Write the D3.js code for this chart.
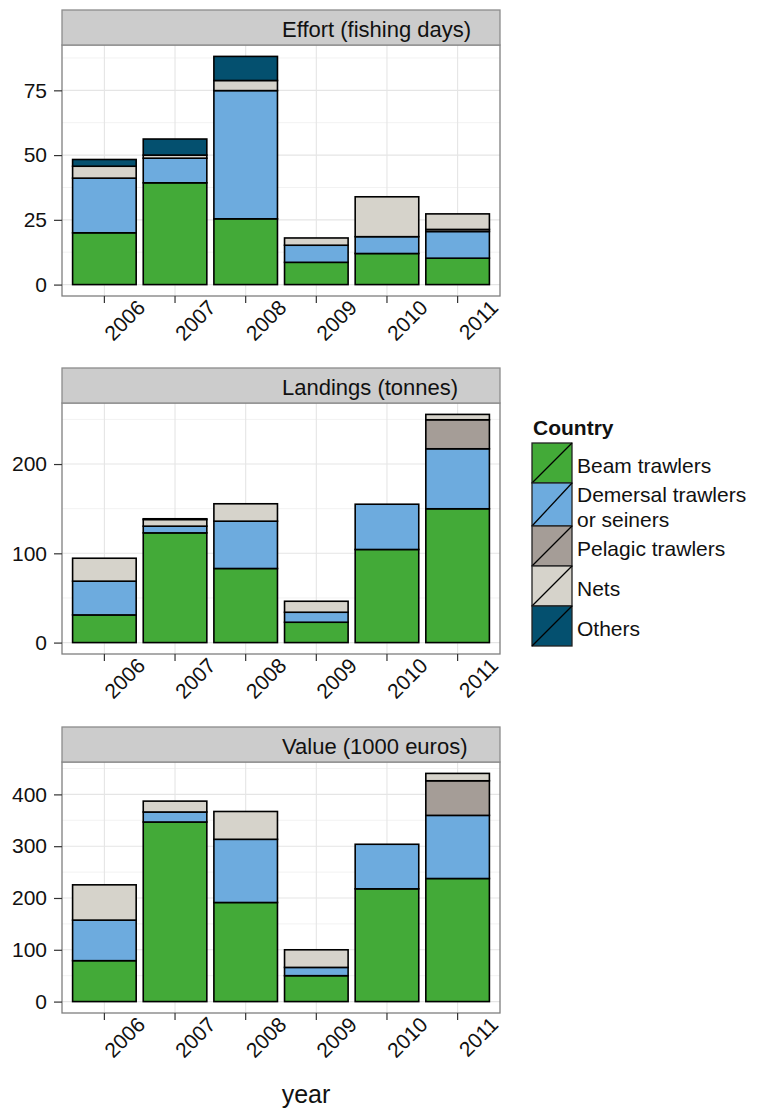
<!DOCTYPE html>
<html>
<head>
<meta charset="utf-8">
<script src="https://cdn.jsdelivr.net/npm/d3@7"></script>
<style>
  html, body { margin: 0; padding: 0; background: #fff; }
  text { font-family: "Liberation Sans", Arial, sans-serif; }
</style>
</head>
<body>
<svg id="chart" width="760" height="1117"></svg>
<script>
const years = ["2006", "2007", "2008", "2009", "2010", "2011"];
const gears = ["Beam trawlers", "Demersal trawlers or seiners", "Pelagic trawlers", "Nets", "Others"];
const gearLabels = [["Beam trawlers"], ["Demersal trawlers", "or seiners"], ["Pelagic trawlers"], ["Nets"], ["Others"]];
const gearColors = ["#43AA38", "#6DABDE", "#A59D97", "#D6D3CB", "#04506F"];
const panelTitles = ["Effort (fishing days)", "Landings (tonnes)", "Value (1000 euros)"];

// values per gear, per year (2006..2011)
const effortBeam      = [20.0, 39.3, 25.4,  8.6, 12.0, 10.2];
const effortDemersal  = [21.1,  9.5, 49.5,  6.6,  6.5, 10.3];
const effortPelagic   = [ 0,    0,    0,    0,    0,    0.8];
const effortNets      = [ 4.6,  1.2,  3.9,  2.8, 15.4,  6.0];
const effortOthers    = [ 2.6,  6.2,  9.3,  0,    0,    0  ];

const landingsBeam     = [31.0, 122.9, 83.0, 22.8, 104.3, 149.9];
const landingsDemersal = [37.8,   7.5, 53.0, 11.2,  50.7,  67.2];
const landingsPelagic  = [ 0,     0,    0,    0,     0,    32.5];
const landingsNets     = [25.7,   7.5, 19.5, 12.3,   0,     6.0];
const landingsOthers   = [ 0,     0.8,  0,    0,     0,     0  ];

const valueBeam     = [79.0, 346.7, 191.3, 50.0, 217.7, 237.6];
const valueDemersal = [78.3,  19.3, 122.0, 16.0,  86.0, 121.9];
const valuePelagic  = [ 0,     0,     0,    0,     0,    66.8];
const valueNets     = [68.1,  21.0,  53.7, 34.0,   0,    14.2];
const valueOthers   = [ 0,     0,     0,    0,     0,     0  ];

const effortTicks   = [0, 25, 50, 75];
const effortMinor   = [12.5, 37.5, 62.5, 87.5];
const landingsTicks = [0, 100, 200];
const landingsMinor = [50, 150, 250];
const valueTicks    = [0, 100, 200, 300, 400];
const valueMinor    = [50, 150, 250, 350, 450];

const panels = [
  { title: panelTitles[0], series: [effortBeam, effortDemersal, effortPelagic, effortNets, effortOthers], ticks: effortTicks, minor: effortMinor, stripTop: 10 },
  { title: panelTitles[1], series: [landingsBeam, landingsDemersal, landingsPelagic, landingsNets, landingsOthers], ticks: landingsTicks, minor: landingsMinor, stripTop: 368 },
  { title: panelTitles[2], series: [valueBeam, valueDemersal, valuePelagic, valueNets, valueOthers], ticks: valueTicks, minor: valueMinor, stripTop: 727 }
];

const svg = d3.select("#chart");
const left = 62, right = 500, stripH = 35, plotH = 251;
const fontTick = 21;

const x = d3.scaleBand().domain(years).range([left, right]).paddingInner(0.1).paddingOuter(0.15);
const color = d3.scaleOrdinal().domain(gears).range(gearColors);

panels.forEach(p => {
  const top = p.stripTop + stripH, bottom = top + plotH;
  const rows = years.map((yr, i) => {
    const r = { year: yr };
    gears.forEach((g, k) => r[g] = p.series[k][i]);
    return r;
  });
  const stacked = d3.stack().keys(gears)(rows);
  const maxTotal = d3.max(rows, r => d3.sum(gears, g => r[g]));
  const y = d3.scaleLinear().domain([-0.05 * maxTotal, 1.05 * maxTotal]).range([bottom, top]);

  const g = svg.append("g");
  // panel background
  g.append("rect").attr("x", left).attr("y", top).attr("width", right - left).attr("height", plotH).attr("fill", "#fff");
  // minor grid
  g.selectAll(".minor").data(p.minor.filter(v => y(v) > top && y(v) < bottom)).join("line")
    .attr("x1", left).attr("x2", right).attr("y1", d => y(d)).attr("y2", d => y(d))
    .attr("stroke", "#F2F2F2").attr("stroke-width", 1);
  // major grid
  g.selectAll(".major").data(p.ticks).join("line")
    .attr("x1", left).attr("x2", right).attr("y1", d => y(d)).attr("y2", d => y(d))
    .attr("stroke", "#E5E5E5").attr("stroke-width", 1.1);
  g.selectAll(".vgrid").data(years).join("line")
    .attr("x1", d => x(d) + x.bandwidth() / 2).attr("x2", d => x(d) + x.bandwidth() / 2)
    .attr("y1", top).attr("y2", bottom)
    .attr("stroke", "#E5E5E5").attr("stroke-width", 1.1);

  // bars
  stacked.forEach((layer, k) => {
    g.selectAll(null).data(layer.filter(d => d[1] - d[0] > 0)).join("rect")
      .attr("x", d => x(d.data.year))
      .attr("width", x.bandwidth())
      .attr("y", d => y(d[1]))
      .attr("height", d => y(d[0]) - y(d[1]))
      .attr("fill", color(layer.key))
      .attr("stroke", "#000")
      .attr("stroke-width", 1.6);
  });

  // panel border
  g.append("rect").attr("x", left).attr("y", top).attr("width", right - left).attr("height", plotH)
    .attr("fill", "none").attr("stroke", "#7F7F7F").attr("stroke-width", 1.3);

  // strip
  g.append("rect").attr("x", left).attr("y", p.stripTop).attr("width", right - left).attr("height", stripH)
    .attr("fill", "#CCCCCC").attr("stroke", "#8C8C8C").attr("stroke-width", 1.3);
  g.append("text").attr("x", 282).attr("y", p.stripTop + 27).attr("font-size", 22).attr("fill", "#111")
    .text(p.title);

  // y axis
  const yAxis = g.append("g").attr("transform", `translate(${left},0)`)
    .call(d3.axisLeft(y).tickValues(p.ticks).tickSize(8).tickPadding(7).tickFormat(d3.format("d")));
  yAxis.select(".domain").remove();
  yAxis.selectAll(".tick line").attr("stroke", "#333").attr("stroke-width", 1.2);
  yAxis.selectAll(".tick text").attr("font-size", fontTick).attr("fill", "#111")
    .attr("font-family", "'Liberation Sans', Arial, sans-serif");

  // x axis
  const xAxis = g.append("g").attr("transform", `translate(0,${bottom})`)
    .call(d3.axisBottom(x).tickSize(7).tickFormat(d => d));
  xAxis.select(".domain").remove();
  xAxis.selectAll(".tick line").attr("stroke", "#333").attr("stroke-width", 1.2);
  xAxis.selectAll(".tick text")
    .attr("font-size", fontTick).attr("fill", "#111")
    .attr("font-family", "'Liberation Sans', Arial, sans-serif")
    .attr("text-anchor", "end")
    .attr("dy", null)
    .attr("y", 0)
    .attr("transform", "translate(42,13) rotate(-45)");
});

// x axis title
svg.append("text").attr("x", 306).attr("y", 1103).attr("text-anchor", "middle")
  .attr("font-size", 25).attr("fill", "#111").text("year");

// legend
const lg = svg.append("g");
lg.append("text").attr("x", 533).attr("y", 435).attr("font-size", 21).attr("font-weight", "bold").attr("fill", "#111").text("Country");
const keyH = gearLabels.map(l => l.length > 1 ? 43 : 40);
let ky = 443;
gears.forEach((gname, k) => {
  const h = keyH[k];
  const kg = lg.append("g");
  kg.append("rect").attr("x", 532).attr("y", ky).attr("width", 40).attr("height", h)
    .attr("fill", color(gname)).attr("stroke", "#222").attr("stroke-width", 1.3);
  kg.append("line").attr("x1", 532).attr("y1", ky + h).attr("x2", 572).attr("y2", ky)
    .attr("stroke", "#000").attr("stroke-width", 1.3);
  const lines = gearLabels[k];
  const cy = ky + h / 2;
  lines.forEach((t, j) => {
    kg.append("text").attr("x", 577)
      .attr("y", cy + 10 + (j - (lines.length - 1) / 2) * 25)
      .attr("font-size", 21).attr("fill", "#111").text(t);
  });
  ky += h;
});
</script>
</body>
</html>
